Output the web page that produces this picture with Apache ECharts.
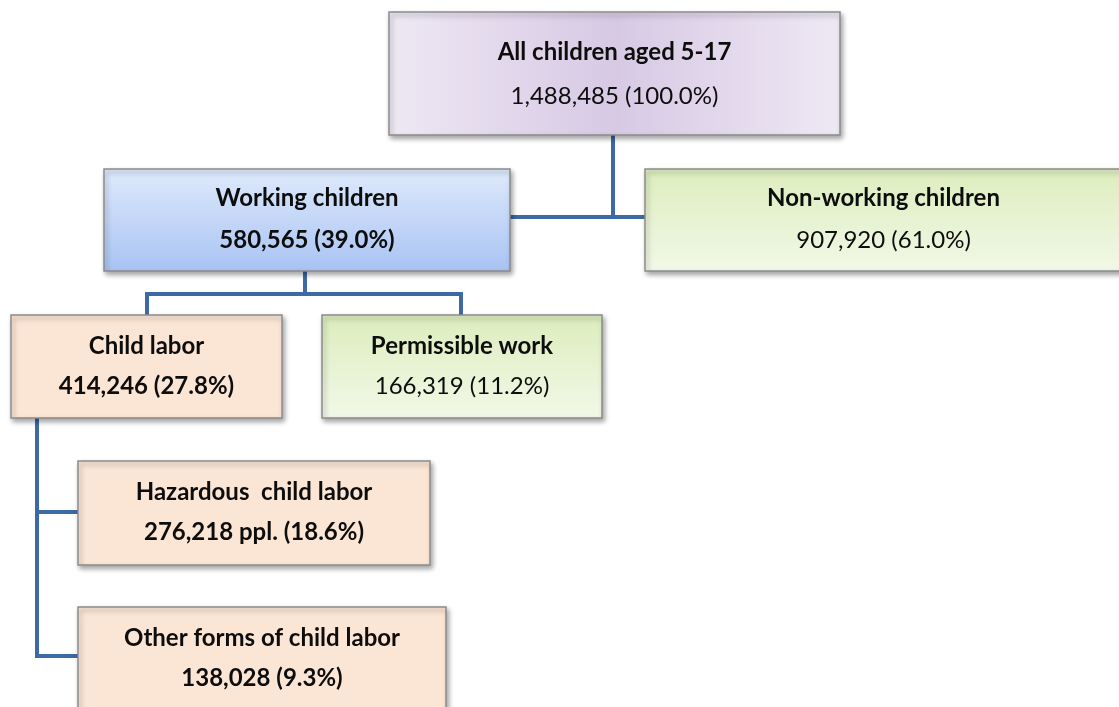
<!DOCTYPE html>
<html>
<head>
    <meta charset="utf-8" />
    <title>Child labor breakdown</title>
    <script src="https://cdn.jsdelivr.net/npm/echarts@6/dist/echarts.min.js"></script>
    <style>
        html, body { margin: 0; padding: 0; background: #fff; }
    </style>
</head>
<body>
    <div id="main" style="width:1119px;height:707px"></div>
    <script type="text/javascript">

        // chart values
        var nodeNames = ['All children aged 5-17', 'Working children', 'Non-working children', 'Child labor', 'Permissible work', 'Hazardous  child labor', 'Other forms of child labor'];
        var nodeCounts = [1488485, 580565, 907920, 414246, 166319, 276218, 138028];
        var nodeShares = [100.0, 39.0, 61.0, 27.8, 11.2, 18.6, 9.3];
        var countUnits = ['', '', '', '', '', ' ppl.', ''];

        // layout (pixel-like units on hidden axes)
        var boxes = [[389, 12, 840, 135], [104, 169, 510, 271], [645, 169, 1122, 271], [11, 315, 282, 418], [322, 315, 602, 418], [78, 461, 430, 565], [78, 607, 446, 725]];
        var fillKind = ['purple', 'blue', 'green', 'peach', 'green', 'peach', 'peach'];
        var valueBold = [false, true, false, true, false, true, true];
        var connectors = [
            [[613, 135], [613, 218]],
            [[510, 217], [645, 217]],
            [[305, 271], [305, 294]],
            [[147, 315], [147, 294], [461, 294], [461, 315]],
            [[37, 418], [37, 656], [78, 656]],
            [[37, 512], [78, 512]]
        ];

        var chartDom = document.getElementById('main');
        var myChart = echarts.init(chartDom);

        function fmt(n) {
            return n.toString().replace(/\B(?=(\d{3})+(?!\d))/g, ',');
        }

        function makeFill(kind) {
            if (kind === 'purple') {
                return new echarts.graphic.LinearGradient(0, 0, 1, 0, [
                    { offset: 0, color: '#eee8f4' },
                    { offset: 0.5, color: '#d7c9e4' },
                    { offset: 1, color: '#eee8f4' }
                ]);
            }
            if (kind === 'blue') {
                return new echarts.graphic.LinearGradient(0, 0, 0, 1, [
                    { offset: 0, color: '#dfeafc' },
                    { offset: 1, color: '#a8c3f3' }
                ]);
            }
            if (kind === 'green') {
                return new echarts.graphic.LinearGradient(0, 0, 0, 1, [
                    { offset: 0, color: '#dcedbd' },
                    { offset: 1, color: '#f2f8e8' }
                ]);
            }
            return '#fbe6d6';
        }

        var font = 'Lato, "Open Sans", sans-serif';

        function renderBox(params, api) {
            var i = api.value(0);
            var b = boxes[i];
            var p0 = api.coord([b[0], b[1]]);
            var p1 = api.coord([b[2], b[3]]);
            var cx = (p0[0] + p1[0]) / 2;
            var h = p1[1] - p0[1];
            var topY = p0[1];
            var ty = topY + 31;
            var vy = topY + 71;
            if (i === 0) { ty = topY + 40; vy = topY + 84; }
            if (i === 1 || i === 2) { ty = topY + 29; vy = topY + 71; }
            return {
                type: 'group',
                children: [{
                    type: 'rect',
                    shape: { x: p0[0], y: p0[1], width: p1[0] - p0[0], height: h },
                    style: {
                        fill: makeFill(fillKind[i]),
                        stroke: '#8c8c8c',
                        lineWidth: 1.5,
                        shadowBlur: 5,
                        shadowOffsetX: 2,
                        shadowOffsetY: 3,
                        shadowColor: 'rgba(0,0,0,0.35)'
                    }
                }, {
                    type: 'text',
                    style: {
                        text: nodeNames[i],
                        x: cx, y: ty,
                        align: 'center', verticalAlign: 'middle',
                        fontFamily: font, fontWeight: 'bold', fontSize: 24,
                        fill: '#0d0d0d'
                    }
                }, {
                    type: 'text',
                    style: {
                        text: fmt(nodeCounts[i]) + countUnits[i] + ' (' + nodeShares[i].toFixed(1) + '%)',
                        x: cx, y: vy,
                        align: 'center', verticalAlign: 'middle',
                        fontFamily: font, fontWeight: valueBold[i] ? 'bold' : 'normal', fontSize: 24,
                        fill: '#0d0d0d'
                    }
                }]
            };
        }

        function renderLink(params, api) {
            var pts = connectors[api.value(0)].map(function (p) { return api.coord(p); });
            return {
                type: 'polyline',
                shape: { points: pts },
                style: { stroke: '#3d6aa6', lineWidth: 4, fill: null, lineJoin: 'miter' }
            };
        }

        var option = {
            animation: false,
            grid: { left: 0, right: 0, top: 0, bottom: 0 },
            xAxis: { type: 'value', min: 0, max: 1119, show: false },
            yAxis: { type: 'value', min: 0, max: 707, inverse: true, show: false },
            series: [{
                type: 'custom',
                renderItem: renderLink,
                clip: false,
                z: 1,
                data: connectors.map(function (c, i) { return [i]; })
            }, {
                type: 'custom',
                renderItem: renderBox,
                clip: false,
                z: 2,
                data: nodeNames.map(function (n, i) { return [i]; })
            }]
        };

        myChart.setOption(option);

    </script>
</body>
</html>
